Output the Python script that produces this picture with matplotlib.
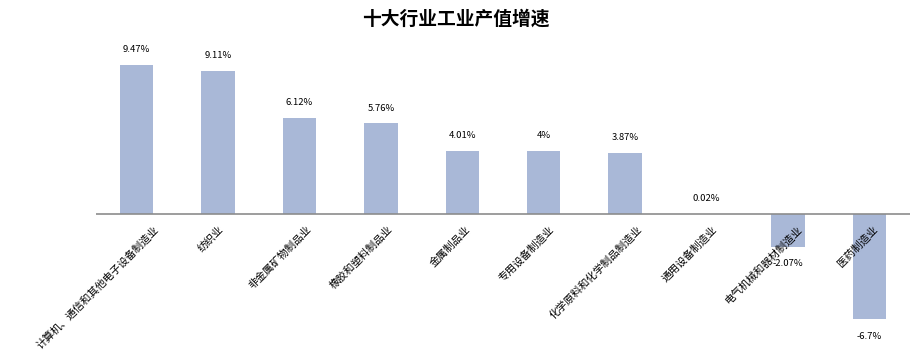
import matplotlib
matplotlib.use("Agg")
import matplotlib.pyplot as plt
import matplotlib.transforms as mtransforms

plt.rcParams['font.family'] = ['Noto Sans CJK SC', 'DejaVu Sans']

categories = ["计算机、通信和其他电子设备制造业", "纺织业", "非金属矿物制品业", "橡胶和塑料制品业",
              "金属制品业", "专用设备制造业", "化学原料和化学制品制造业", "通用设备制造业",
              "电气机械和器材制造业", "医药制造业"]
values = [9.47, 9.11, 6.12, 5.76, 4.01, 4.0, 3.87, 0.02, -2.07, -6.7]
value_labels = ["9.47%", "9.11%", "6.12%", "5.76%", "4.01%", "4%", "3.87%", "0.02%", "-2.07%", "-6.7%"]
title = "十大行业工业产值增速"

W, H = 914, 363
fig = plt.figure(figsize=(W / 100, H / 100), dpi=100)
ax = fig.add_axes([96 / W, (H - 345) / H, (910 - 96) / W, (345 - 40) / H])

x = list(range(len(categories)))
ax.bar(x, values, width=0.41, color="#A9B8D7", zorder=2)
ax.set_xlim(-0.5, len(categories) - 0.5)
ax.set_ylim(-8.33, 11.06)
ax.axhline(0, color="#8C8C8C", lw=1.2, zorder=3)

for s in ax.spines.values():
    s.set_visible(False)
ax.set_xticks([])
ax.set_yticks([])

for xi, v, lab in zip(x, values, value_labels):
    dy = 11 if v >= 0 else -12.5
    ax.annotate(lab, (xi, v), xytext=(0, dy), textcoords="offset points",
                ha="center", va="center", fontsize=6.8, color="#000000", zorder=5)

for xi, cat in zip(x, categories):
    off = mtransforms.ScaledTranslation((1.3 * len(cat)) / 100, -14 / 100, fig.dpi_scale_trans)
    ax.text(xi, 0, cat, rotation=45, rotation_mode="anchor", ha="right", va="center",
            fontsize=7.6, color="#000000", transform=ax.transData + off, zorder=4)

fig.text(456 / W, 1 - 19 / H, title, ha="center", va="center", fontsize=13.5,
         fontweight="bold", color="#000000")

fig.savefig("out.png", dpi=100, facecolor="white")
